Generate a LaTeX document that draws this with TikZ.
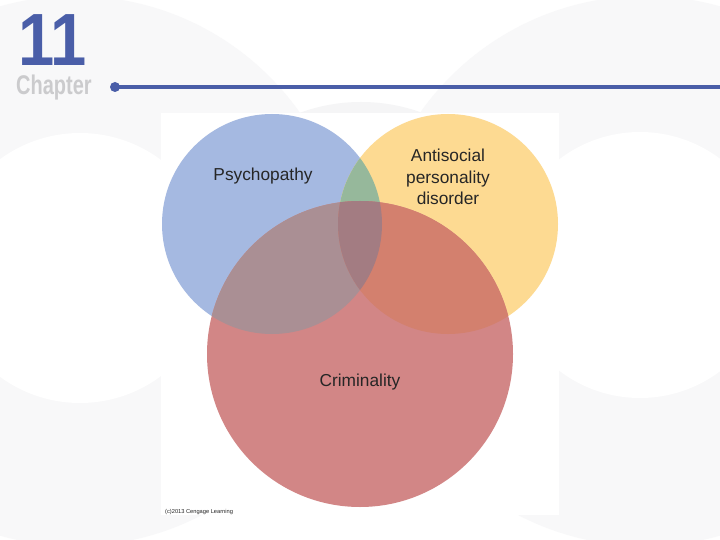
\documentclass[tikz,border=0pt]{standalone}
\usepackage{fontspec}
\setmainfont{Liberation Sans}
\definecolor{myBgGray}{RGB}{248,248,249}
\definecolor{myArchGray}{RGB}{245,245,246}
\definecolor{myTitleBlue}{RGB}{74,94,168}
\definecolor{myChapterGray}{RGB}{203,203,205}
\definecolor{myPsychBlue}{RGB}{165,185,225}
\definecolor{myAntiYellow}{RGB}{253,218,146}
\definecolor{myCrimeRed}{RGB}{210,134,134}
\definecolor{myBlueYellow}{RGB}{150,184,155}
\definecolor{myBlueRed}{RGB}{170,143,148}
\definecolor{myYellowRed}{RGB}{211,128,110}
\definecolor{myAllThree}{RGB}{163,124,130}
\definecolor{myLabelText}{RGB}{38,38,38}
\usetikzlibrary{positioning}

\begin{document}
\begin{tikzpicture}[x=1pt, y=-1pt,
    vennlabel/.style={font=\fontsize{17.3}{21.5}\selectfont, text=myLabelText, align=center, inner sep=0pt}]
  \useasboundingbox (0,0) rectangle (720,540);
  \fill[white] (0,0) rectangle (720,540);

  % faint rings behind the slide
  \fill[myArchGray] (361,279) circle (177);
  \fill[myBgGray] (75,271) circle (275);
  \fill[myBgGray] (645,271) circle (275);
  \fill[white] (80,268) circle (135);
  \fill[white] (640,265) circle (133);

  % chapter header
  \node[font=\bfseries\fontsize{74}{74}\selectfont, text=myTitleBlue, xscale=0.88,
    inner sep=0pt, text height=53pt, text depth=0pt, anchor=base west] (chapNum) at (18,66) {11};
  \node[font=\bfseries\fontsize{27}{27}\selectfont, text=myChapterGray, xscale=0.74,
    inner sep=0pt, anchor=base west] (chapWord) at (16,95) {Chapter};
  \node[circle, fill=myTitleBlue, inner sep=0pt, minimum size=10pt] (lineDot) at (115,87) {};
  \coordinate (lineEnd) at (720,87);
  \draw[myTitleBlue, line width=3.5pt] (lineDot.center) -- (lineEnd);

  % white panel
  \fill[white] (161,113) rectangle (559,515);

  % venn circles
  \coordinate (psych) at (272,224);
  \coordinate (anti) at (448,224);
  \coordinate (crime) at (360,354);
  \fill[myPsychBlue] (psych) circle (110);
  \fill[myAntiYellow] (anti) circle (110);
  \fill[myCrimeRed] (crime) circle (153);
  \begin{scope}
    \clip (psych) circle (110);
    \fill[myBlueYellow] (anti) circle (110);
    \fill[myBlueRed] (crime) circle (153);
  \end{scope}
  \begin{scope}
    \clip (anti) circle (110);
    \fill[myYellowRed] (crime) circle (153);
    \clip (psych) circle (110);
    \fill[myAllThree] (crime) circle (153);
  \end{scope}

  \node[vennlabel] (psychLabel) at (263,176) {Psychopathy};
  \node[vennlabel] (antiLabel) at (448,177) {Antisocial\\personality\\disorder};
  \node[vennlabel] (crimeLabel) at (360,382) {Criminality};

  \node[font=\fontsize{5.7}{6}\selectfont, text=myLabelText, inner sep=0pt, anchor=base west]
    (copyLabel) at (165,513) {(c)2013 Cengage Learning};
\end{tikzpicture}
\end{document}
